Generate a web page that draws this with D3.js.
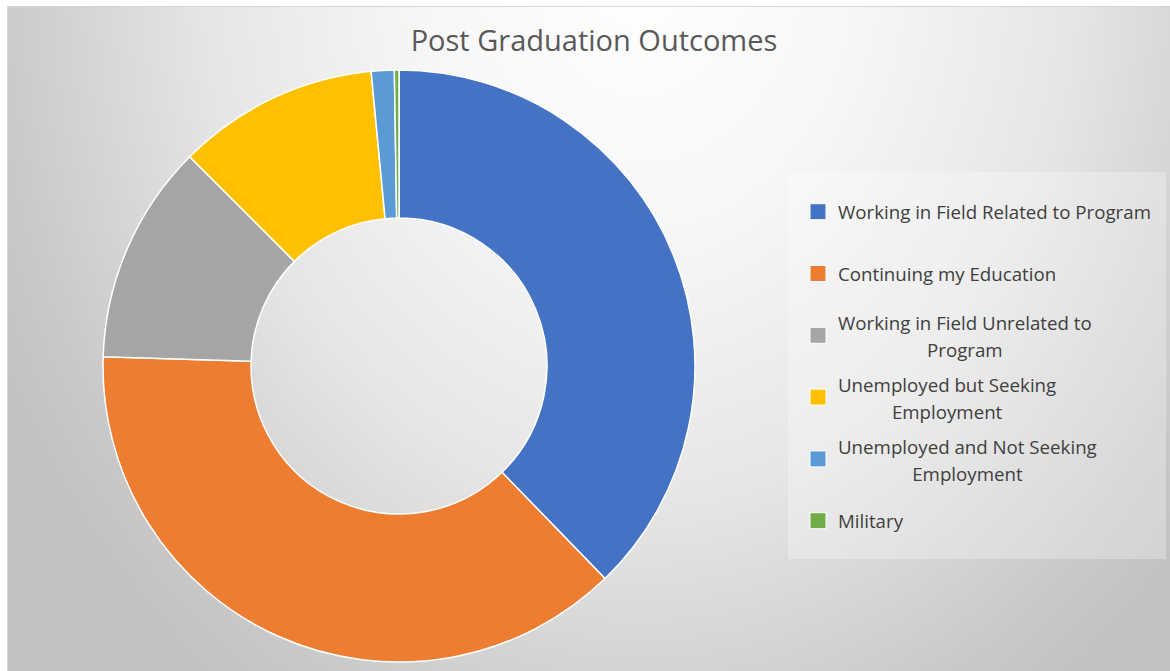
<!DOCTYPE html>
<html>
<head>
<meta charset="utf-8">
<script src="https://cdn.jsdelivr.net/npm/d3@7"></script>
<style>
  body { margin: 0; background: #fff; }
  text { font-family: "Open Sans", "Noto Sans", sans-serif; }
</style>
</head>
<body>
<div id="chart"></div>
<script>
// outcome categories (counts out of ~400 grads)
var categories = [
    "Working in Field Related to Program",
    "Continuing my Education",
    "Working in Field Unrelated to Program",
    "Unemployed but Seeking Employment",
    "Unemployed and Not Seeking Employment",
    "Military"
];
var counts = [151, 151, 48, 44, 5, 1];
var colors = ["#4472c4", "#ed7d31", "#a5a5a5", "#ffc000", "#5b9bd5", "#70ad47"];
var title = "Post Graduation Outcomes";

var width = 1170, height = 671;
var cx = 399, cy = 366, outerR = 296, innerR = 148;
var legendFont = "18.7px";

var svg = d3.select("#chart").append("svg")
    .attr("width", width)
    .attr("height", height);

var defs = svg.append("defs");
var grad = defs.append("radialGradient")
    .attr("id", "bg")
    .attr("gradientUnits", "userSpaceOnUse")
    .attr("cx", 640).attr("cy", -40).attr("r", 720)
    .attr("gradientTransform", "translate(640,-40) scale(1,1.25) translate(-640,40)");
grad.append("stop").attr("offset", 0).attr("stop-color", "#ffffff");
grad.append("stop").attr("offset", 0.3).attr("stop-color", "#f7f7f7");
grad.append("stop").attr("offset", 0.6).attr("stop-color", "#e6e6e6");
grad.append("stop").attr("offset", 0.9).attr("stop-color", "#c9c9c9");
grad.append("stop").attr("offset", 1).attr("stop-color", "#c2c2c2");

// chart area
svg.append("rect")
    .attr("x", 7.5).attr("y", 6.5)
    .attr("width", width).attr("height", height)
    .style("fill", "url(#bg)")
    .style("stroke", "#d4d4d4")
    .style("stroke-width", 1);

svg.append("text")
    .attr("x", 594)
    .attr("y", 51)
    .attr("text-anchor", "middle")
    .style("font-size", "29px")
    .style("fill", "#595959")
    .text(title);

// donut
var pie = d3.pie().sort(null).value(function(d) { return d; });
var arc = d3.arc().innerRadius(innerR).outerRadius(outerR);

svg.append("g")
    .attr("transform", "translate(" + cx + "," + cy + ")")
    .selectAll("path")
    .data(pie(counts))
    .enter().append("path")
    .attr("d", arc)
    .style("fill", function(d, i) { return colors[i]; })
    .style("stroke", "#ffffff")
    .style("stroke-width", 1.5);

// legend
svg.append("rect")
    .attr("x", 788).attr("y", 172)
    .attr("width", 378).attr("height", 387)
    .style("fill", "#ffffff")
    .style("fill-opacity", 0.28);

var legendTop = 211.7, legendStep = 61.8, maxLine = 322;
var legend = svg.append("g");

categories.forEach(function(name, i) {
    var yc = legendTop + i * legendStep;
    legend.append("rect")
        .attr("x", 810).attr("y", yc - 8)
        .attr("width", 16).attr("height", 16)
        .style("fill", colors[i])
        .style("stroke", "#ffffff")
        .style("stroke-width", 1);

    // word wrap like Excel does
    var words = name.split(" "), lines = [], cur = "";
    var probe = legend.append("text").style("font-size", legendFont);
    words.forEach(function(w) {
        var test = cur ? cur + " " + w : w;
        probe.text(test);
        if (cur && probe.node().getComputedTextLength() > maxLine) {
            lines.push(cur);
            cur = w;
        } else {
            cur = test;
        }
    });
    lines.push(cur);
    var widths = lines.map(function(l) {
        probe.text(l);
        return probe.node().getComputedTextLength();
    });
    probe.remove();

    var blockW = d3.max(widths);
    var firstBase = lines.length > 1 ? yc - 5 : yc + 7.5;
    lines.forEach(function(l, j) {
        legend.append("text")
            .attr("x", 838 + blockW / 2)
            .attr("y", firstBase + j * 26.6)
            .attr("text-anchor", "middle")
            .style("font-size", legendFont)
            .style("fill", "#404040")
            .text(l);
    });
});
</script>
</body>
</html>
